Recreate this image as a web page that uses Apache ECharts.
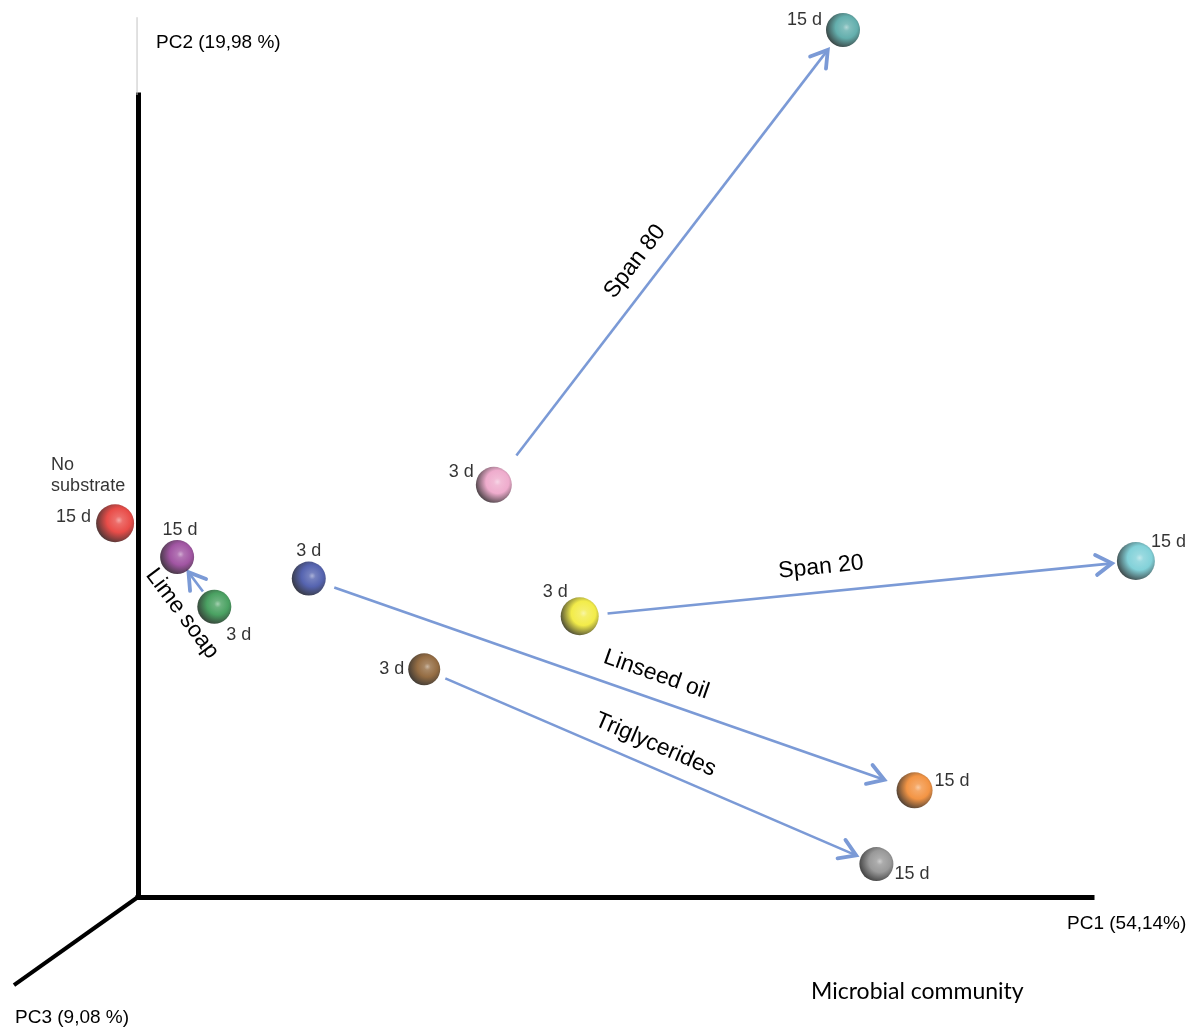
<!DOCTYPE html>
<html>
<head>
<meta charset="utf-8">
<script src="https://cdn.jsdelivr.net/npm/echarts@6/dist/echarts.min.js"></script>
<style>
  html, body { margin: 0; padding: 0; background: #ffffff; }
  #chart { width: 1192px; height: 1028px; }
</style>
</head>
<body>
<div id="chart"></div>
<script>
// PCA scores of each sample (PC1 / PC2, arbitrary units measured from the axes corner)
const sampleGroup = ['No substrate', 'Lime soap', 'Lime soap', 'Linseed oil', 'Span 80', 'Span 20',
                     'Triglycerides', 'Span 80', 'Span 20', 'Linseed oil', 'Triglycerides'];
const sampleDay   = ['15 d', '15 d', '3 d', '3 d', '3 d', '3 d', '3 d', '15 d', '15 d', '15 d', '15 d'];
const pc1Score    = [-2.4, 4.1, 8.0, 17.9, 37.3, 46.3, 30.0, 73.9, 104.6, 81.4, 77.4];
const pc2Score    = [46.6, 42.4, 36.2, 39.7, 51.4, 35.0, 28.4, 108.1, 41.9, 13.3, 4.1];

// Treatments whose community shift from 3 d to 15 d is drawn as an arrow
const trajectoryGroups = ['Lime soap', 'Linseed oil', 'Triglycerides', 'Span 80', 'Span 20'];

// Axis titles and caption
const pc1Title = 'PC1 (54,14%)';
const pc2Title = 'PC2 (19,98 %)';
const pc3Title = 'PC3 (9,08 %)';
const captionText = 'Microbial community';

// Oblique PC3 axis and the faint PC2 extension, as [x1, y1, x2, y2] in PC1/PC2 units
const axisGuides = [[0, 0, -13, -11], [-0.1, 100, -0.1, 109.7]];

// ---------- styling ----------
const FONT = "'Liberation Sans', Arial, Helvetica, sans-serif";
const ARROW = '#7b9ad6';
const guideStyle = [{ stroke: '#000', lineWidth: 4 }, { stroke: '#c4c4c4', lineWidth: 1 }];
const sphereColor = ['#e3201b', '#8a2b8c', '#1d8a3b', '#2b3d9c', '#ea97c0', '#efe71c',
                     '#7a4814', '#3d9b99', '#63c6cf', '#f07a16', '#808080'];
const sphereSize  = [38, 34, 34, 34, 36, 38, 32, 34, 38, 36, 34];
// where each day label sits around its sphere
const dayLabelPlace = [
  ['left', [0, -6]], ['top', [3, 4]], ['right', [-10, 28]], ['top', [0, 3]],
  ['left', [3, -13]], ['left', [12, -24]], ['left', [1, 0]], ['left', [1, -10]],
  ['right', [-9, -19]], ['right', [-3, -9]], ['right', [-4, 10]]
];
// arrow trimming near the spheres and placement of the treatment name
const arrowStyle = {
  'Lime soap':     { gapStart: 19, gapEnd: 19, t: -0.22, side: 30 },
  'Linseed oil':   { gapStart: 27, gapEnd: 32, t: 0.571, side: 24 },
  'Triglycerides': { gapStart: 23, gapEnd: 22, t: 0.49,  side: 22 },
  'Span 80':       { gapStart: 37, gapEnd: 25, t: 0.442, side: 24 },
  'Span 20':       { gapStart: 28, gapEnd: 24, t: 0.428, side: 25 }
};

function shade(hex, amt) {
  // amt > 0 mixes toward white, amt < 0 toward black
  const n = parseInt(hex.slice(1), 16);
  let r = (n >> 16) & 255, g = (n >> 8) & 255, b = n & 255;
  const tgt = amt > 0 ? 255 : 0, k = Math.abs(amt);
  r = Math.round(r + (tgt - r) * k);
  g = Math.round(g + (tgt - g) * k);
  b = Math.round(b + (tgt - b) * k);
  return 'rgb(' + r + ',' + g + ',' + b + ')';
}

function sphereFill(c) {
  return new echarts.graphic.RadialGradient(0.6, 0.42, 0.64, [
    { offset: 0,    color: shade(c, 0.5) },
    { offset: 0.16, color: shade(c, 0.18) },
    { offset: 0.5,  color: c },
    { offset: 0.78, color: shade(c, -0.5) },
    { offset: 1,    color: shade(c, -0.9) }
  ]);
}

const sphereData = pc1Score.map((x, i) => ({
  name: sampleGroup[i] + ' ' + sampleDay[i],
  value: [x, pc2Score[i]],
  symbolSize: sphereSize[i],
  itemStyle: { color: sphereFill(sphereColor[i]) },
  label: {
    show: true,
    formatter: sampleDay[i],
    position: dayLabelPlace[i][0],
    offset: dayLabelPlace[i][1]
  }
}));

// arrow segments: 3 d sample -> 15 d sample of the same treatment
const arrowData = trajectoryGroups.map(g => {
  const a = sampleGroup.findIndex((s, i) => s === g && sampleDay[i] === '3 d');
  const b = sampleGroup.findIndex((s, i) => s === g && sampleDay[i] === '15 d');
  return [pc1Score[a], pc2Score[a], pc1Score[b], pc2Score[b]];
});

// groups drawn without an arrow get their name printed beside the sphere
const standaloneData = sampleGroup
  .map((g, i) => ({ g, i }))
  .filter(o => trajectoryGroups.indexOf(o.g) < 0)
  .map(o => ({
    value: [pc1Score[o.i], pc2Score[o.i]],
    label: { formatter: o.g.replace(' ', '\n') }
  }));

function renderGuide(params, api) {
  const a = api.coord([api.value(0), api.value(1)]);
  const b = api.coord([api.value(2), api.value(3)]);
  const st = guideStyle[params.dataIndex];
  return {
    type: 'line',
    shape: { x1: a[0], y1: a[1], x2: b[0], y2: b[1] },
    style: { stroke: st.stroke, lineWidth: st.lineWidth, fill: null, lineCap: 'butt' }
  };
}

function renderArrow(params, api) {
  const a = api.coord([api.value(0), api.value(1)]);
  const b = api.coord([api.value(2), api.value(3)]);
  const name = trajectoryGroups[params.dataIndex];
  const st = arrowStyle[name];
  const dx = b[0] - a[0], dy = b[1] - a[1], d = Math.hypot(dx, dy);
  const ux = dx / d, uy = dy / d;
  const nx = uy, ny = -ux;
  const s = [a[0] + ux * st.gapStart, a[1] + uy * st.gapStart];
  const e = [b[0] - ux * st.gapEnd, b[1] - uy * st.gapEnd];
  const len = d - st.gapStart - st.gapEnd;
  const L = 16, W = 10;
  const tx = s[0] + ux * len * st.t + nx * st.side;
  const ty = s[1] + uy * len * st.t + ny * st.side;
  let ang = Math.atan2(uy, ux);
  if (ang > Math.PI / 2) ang -= Math.PI;
  else if (ang < -Math.PI / 2) ang += Math.PI;
  return {
    type: 'group',
    children: [
      { type: 'line', shape: { x1: s[0], y1: s[1], x2: e[0], y2: e[1] },
        style: { stroke: ARROW, lineWidth: 2.6, fill: null } },
      { type: 'polyline',
        shape: { points: [[e[0] - ux * L + nx * W, e[1] - uy * L + ny * W], e,
                          [e[0] - ux * L - nx * W, e[1] - uy * L - ny * W]] },
        style: { stroke: ARROW, lineWidth: 3.8, fill: null, lineJoin: 'miter', lineCap: 'round' } },
      { type: 'text', x: tx, y: ty, rotation: -ang,
        style: { text: name, fontSize: 23, fontFamily: FONT, fill: '#000',
                 align: 'center', verticalAlign: 'middle' } }
    ]
  };
}

const chart = echarts.init(document.getElementById('chart'), null, { renderer: 'canvas' });
chart.setOption({
  animation: false,
  backgroundColor: '#ffffff',
  grid: { left: 138, right: 100, top: 95, bottom: 131 },
  xAxis: {
    type: 'value', min: 0, max: 100,
    axisLine: { show: true, onZero: false, lineStyle: { color: '#000', width: 5, cap: 'square' } },
    axisTick: { show: false }, axisLabel: { show: false }, splitLine: { show: false }
  },
  yAxis: {
    type: 'value', min: 0, max: 100,
    axisLine: { show: true, onZero: false, lineStyle: { color: '#000', width: 5, cap: 'square' } },
    axisTick: { show: false }, axisLabel: { show: false }, splitLine: { show: false }
  },
  series: [
    {
      type: 'custom', name: 'axis guides', clip: false, silent: true,
      encode: { x: [0, 2], y: [1, 3] },
      data: axisGuides,
      renderItem: renderGuide,
      z: 1
    },
    {
      type: 'custom', name: 'trajectories', clip: false,
      encode: { x: [0, 2], y: [1, 3] },
      data: arrowData,
      renderItem: renderArrow,
      z: 3
    },
    {
      type: 'scatter', name: 'samples', clip: false,
      symbol: 'circle',
      data: sphereData,
      label: { color: '#000', fontSize: 18, fontFamily: FONT, distance: 5 },
      z: 4
    },
    {
      type: 'scatter', name: 'group names', clip: false, silent: true,
      symbolSize: 1, itemStyle: { color: 'rgba(0,0,0,0)' },
      data: standaloneData,
      label: { show: true, position: 'inside', align: 'left', verticalAlign: 'middle',
               offset: [-64, -48], color: '#000', fontSize: 18, lineHeight: 21, fontFamily: FONT },
      z: 4
    }
  ],
  graphic: [
    { type: 'text', left: 156, top: 33, style: { text: pc2Title, fontSize: 19, fontFamily: FONT, fill: '#000' } },
    { type: 'text', left: 1067, top: 914, style: { text: pc1Title, fontSize: 19, fontFamily: FONT, fill: '#000' } },
    { type: 'text', left: 15, top: 1008, style: { text: pc3Title, fontSize: 19, fontFamily: FONT, fill: '#000' } },
    { type: 'text', left: 811, top: 980, style: { text: captionText, fontSize: 23, fontFamily: "Lato, 'Open Sans', sans-serif", fill: '#000' } }
  ]
});
</script>
</body>
</html>
